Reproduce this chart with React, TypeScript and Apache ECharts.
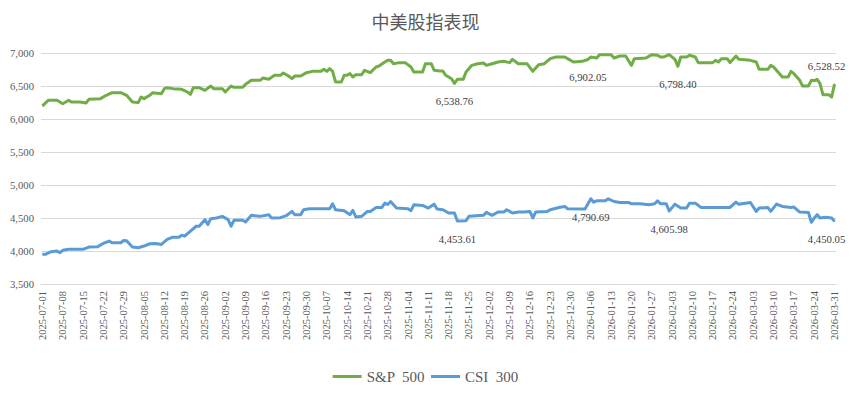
import React, { useEffect, useRef } from "react";
import * as echarts from "echarts";

// Category axis: every calendar day from 2025-07-01 to 2026-03-31
const firstDay = "2025-07-01";
const dayCount = 274;
const dateCategories: string[] = [];
{
  const t0 = Date.UTC(2025, 6, 1);
  for (let i = 0; i < dayCount; i++) {
    dateCategories.push(new Date(t0 + i * 86400000).toISOString().slice(0, 10));
  }
}

const yTicks = [3500, 4000, 4500, 5000, 5500, 6000, 6500, 7000];

const spxDates = [
  "2025-07-01","2025-07-03","2025-07-06","2025-07-08","2025-07-10","2025-07-11","2025-07-14","2025-07-16","2025-07-17","2025-07-21",
  "2025-07-23","2025-07-25","2025-07-28","2025-07-30","2025-08-01","2025-08-03","2025-08-04","2025-08-05","2025-08-07","2025-08-08",
  "2025-08-11","2025-08-12","2025-08-13","2025-08-15","2025-08-18","2025-08-20","2025-08-21","2025-08-22","2025-08-24","2025-08-26",
  "2025-08-28","2025-08-29","2025-09-01","2025-09-02","2025-09-04","2025-09-05","2025-09-08","2025-09-09","2025-09-11","2025-09-14",
  "2025-09-15","2025-09-17","2025-09-19","2025-09-21","2025-09-22","2025-09-24","2025-09-25","2025-09-26","2025-09-28","2025-09-30",
  "2025-10-02","2025-10-05","2025-10-06","2025-10-07","2025-10-08","2025-10-09","2025-10-10","2025-10-12","2025-10-13","2025-10-14",
  "2025-10-15","2025-10-16","2025-10-17","2025-10-19","2025-10-20","2025-10-22","2025-10-24","2025-10-25","2025-10-27","2025-10-28",
  "2025-10-29","2025-10-30","2025-11-01","2025-11-03","2025-11-05","2025-11-06","2025-11-09","2025-11-10","2025-11-12","2025-11-13",
  "2025-11-15","2025-11-16","2025-11-17","2025-11-19","2025-11-20","2025-11-21","2025-11-23","2025-11-24","2025-11-26","2025-11-28",
  "2025-11-30","2025-12-01","2025-12-03","2025-12-05","2025-12-07","2025-12-09","2025-12-10","2025-12-12","2025-12-15","2025-12-17",
  "2025-12-19","2025-12-21","2025-12-23","2025-12-25","2025-12-28","2025-12-29","2025-12-31","2026-01-03","2026-01-05","2026-01-06",
  "2026-01-08","2026-01-09","2026-01-13","2026-01-14","2026-01-16","2026-01-18","2026-01-20","2026-01-21","2026-01-25","2026-01-27",
  "2026-01-29","2026-01-30","2026-01-31","2026-02-02","2026-02-04","2026-02-05","2026-02-06","2026-02-08","2026-02-09","2026-02-11",
  "2026-02-12","2026-02-15","2026-02-17","2026-02-18","2026-02-19","2026-02-20","2026-02-22","2026-02-23","2026-02-25","2026-02-26",
  "2026-03-02","2026-03-04","2026-03-05","2026-03-08","2026-03-09","2026-03-10","2026-03-13","2026-03-15","2026-03-16","2026-03-17",
  "2026-03-19","2026-03-20","2026-03-22","2026-03-23","2026-03-24","2026-03-25","2026-03-26","2026-03-27","2026-03-29","2026-03-30",
  "2026-03-31",
];
const spxValues = [
  6198,6283,6283,6232,6283,6258,6258,6243,6298,6308,
  6359,6399,6399,6359,6258,6248,6333,6308,6359,6399,
  6384,6460,6475,6460,6450,6409,6374,6475,6475,6434,
  6500,6460,6460,6409,6500,6480,6480,6525,6586,6586,
  6621,6601,6662,6662,6697,6646,6611,6652,6652,6702,
  6722,6722,6753,6722,6763,6722,6561,6561,6662,6662,
  6687,6636,6672,6672,6737,6702,6788,6803,6864,6889,
  6889,6838,6854,6854,6788,6712,6712,6838,6838,6737,
  6727,6727,6662,6611,6538.76,6601,6601,6712,6813,6838,
  6849,6813,6838,6864,6874,6854,6904,6838,6838,6722,
  6823,6838,6914,6939,6939,6914,6864,6874,6902.05,6939,
  6924,6975,6975,6924,6955,6955,6813,6914,6924,6975,
  6965,6939,6939,6975,6904,6798.40,6939,6939,6965,6939,
  6854,6854,6854,6889,6864,6914,6914,6854,6955,6904,
  6889,6864,6753,6753,6813,6788,6636,6636,6722,6687,
  6586,6500,6500,6586,6580,6601,6535,6369,6369,6334,
  6528.52,
];

const csiDates = [
  "2025-07-01","2025-07-02","2025-07-04","2025-07-06","2025-07-07","2025-07-08","2025-07-10","2025-07-15","2025-07-17","2025-07-20",
  "2025-07-22","2025-07-24","2025-07-25","2025-07-28","2025-07-29","2025-07-30","2025-08-01","2025-08-03","2025-08-05","2025-08-07",
  "2025-08-09","2025-08-11","2025-08-13","2025-08-15","2025-08-17","2025-08-18","2025-08-19","2025-08-21","2025-08-23","2025-08-24",
  "2025-08-26","2025-08-27","2025-08-28","2025-08-30","2025-09-01","2025-09-03","2025-09-04","2025-09-05","2025-09-08","2025-09-09",
  "2025-09-11","2025-09-14","2025-09-17","2025-09-18","2025-09-21","2025-09-23","2025-09-25","2025-09-26","2025-09-28","2025-09-29",
  "2025-10-01","2025-10-08","2025-10-09","2025-10-10","2025-10-13","2025-10-15","2025-10-16","2025-10-17","2025-10-19","2025-10-21",
  "2025-10-22","2025-10-24","2025-10-26","2025-10-27","2025-10-28","2025-10-29","2025-10-31","2025-11-04","2025-11-05","2025-11-06",
  "2025-11-09","2025-11-11","2025-11-13","2025-11-14","2025-11-16","2025-11-18","2025-11-20","2025-11-21","2025-11-24","2025-11-25",
  "2025-11-30","2025-12-01","2025-12-03","2025-12-05","2025-12-07","2025-12-08","2025-12-10","2025-12-12","2025-12-14","2025-12-16",
  "2025-12-17","2025-12-18","2025-12-22","2025-12-23","2025-12-26","2025-12-28","2025-12-29","2026-01-04","2026-01-06","2026-01-07",
  "2026-01-08","2026-01-11","2026-01-12","2026-01-14","2026-01-16","2026-01-19","2026-01-20","2026-01-23","2026-01-26","2026-01-28",
  "2026-01-29","2026-01-30","2026-02-01","2026-02-02","2026-02-04","2026-02-06","2026-02-08","2026-02-09","2026-02-11","2026-02-13",
  "2026-02-23","2026-02-25","2026-02-26","2026-03-02","2026-03-04","2026-03-05","2026-03-08","2026-03-09","2026-03-11","2026-03-13",
  "2026-03-16","2026-03-17","2026-03-19","2026-03-22","2026-03-23","2026-03-24","2026-03-25","2026-03-26","2026-03-28","2026-03-30",
  "2026-03-31",
];
const csiValues = [
  3950,3950,3990,4000,3975,4010,4025,4025,4060,4065,
  4115,4150,4125,4125,4160,4155,4060,4050,4075,4110,
  4115,4100,4175,4210,4210,4240,4225,4300,4375,4375,
  4475,4400,4490,4500,4525,4475,4375,4465,4465,4440,
  4540,4525,4550,4500,4505,4535,4600,4550,4550,4625,
  4640,4640,4715,4625,4610,4550,4615,4515,4525,4600,
  4600,4660,4660,4725,4705,4750,4650,4640,4610,4700,
  4690,4650,4710,4635,4625,4575,4575,4453.61,4460,4525,
  4540,4585,4540,4590,4590,4625,4575,4590,4590,4600,
  4500,4590,4600,4625,4660,4675,4640,4635,4790.69,4740,
  4760,4760,4790,4750,4735,4735,4715,4715,4700,4715,
  4760,4715,4715,4605.98,4710,4650,4650,4725,4725,4660,
  4660,4740,4710,4735,4600,4650,4660,4600,4710,4675,
  4660,4665,4590,4585,4435,4500,4550,4500,4510,4500,
  4450.05,
];

const spxLabelDates = ["2025-11-20", "2026-01-05", "2026-02-05", "2026-03-31"];
const csiLabelDates = ["2025-11-21", "2026-01-06", "2026-02-02", "2026-03-31"];

const SERIF = "'Liberation Serif', 'Times New Roman', serif";
const fmt = (v: number) =>
  v.toLocaleString("en-US", { minimumFractionDigits: 2, maximumFractionDigits: 2 });

function buildData(
  dates: string[],
  values: number[],
  labelDates: string[],
  lastDate: string,
  lastAbove: boolean
) {
  return dates.map((d, i) => {
    const item: any = { value: [d, values[i]] };
    if (labelDates.includes(d)) {
      const isLast = d === lastDate;
      item.label = {
        show: true,
        position: isLast && lastAbove ? "top" : "bottom",
        distance: 12,
        offset: isLast ? [-8, 0] : [0, 0],
        formatter: (p: any) => fmt(p.value[1]),
        fontFamily: SERIF,
        fontSize: 10.7,
        color: "#404040",
      };
    }
    return item;
  });
}

export default function App() {
  const ref = useRef<HTMLDivElement>(null);
  useEffect(() => {
    document.body.style.margin = "0";
    if (!ref.current) return;
    const chart = echarts.init(ref.current, null, { renderer: "svg" });
    const lastDate = dateCategories[dateCategories.length - 1];
    const firstIdx = dateCategories.indexOf(firstDay);
    chart.setOption({
      animation: false,
      backgroundColor: "#ffffff",
      graphic: [
        {
          type: "text",
          left: "center",
          top: 12,
          style: {
            text: "中美股指表现",
            font: "18px 'Noto Sans CJK SC', sans-serif",
            fill: "#595959",
          },
        },
      ],
      grid: { left: 41, right: 15, top: 53, height: 231, containLabel: false },
      legend: {
        left: "center",
        top: 364,
        icon: "rect",
        itemWidth: 29,
        itemHeight: 3,
        itemGap: 6,
        textStyle: { fontFamily: SERIF, fontSize: 15, color: "#595959" },
        data: ["S&P  500", "CSI  300"],
      },
      xAxis: {
        type: "category",
        data: dateCategories,
        boundaryGap: true,
        axisLine: { show: true, lineStyle: { color: "#d9d9d9", width: 1 } },
        axisTick: { show: false },
        axisLabel: {
          interval: (idx: number) => (idx - firstIdx) % 7 === 0,
          rotate: 90,
          margin: 7,
          fontFamily: SERIF,
          fontSize: 10.5,
          color: "#595959",
        },
        splitLine: { show: false },
      },
      yAxis: {
        type: "value",
        min: yTicks[0],
        max: yTicks[yTicks.length - 1],
        interval: 500,
        axisLine: { show: false },
        axisTick: { show: false },
        axisLabel: {
          margin: 7,
          fontFamily: SERIF,
          fontSize: 10.7,
          color: "#595959",
          formatter: (v: number) => v.toLocaleString("en-US"),
        },
        splitLine: { lineStyle: { color: "#d9d9d9", width: 1 } },
      },
      series: [
        {
          name: "S&P  500",
          type: "line",
          data: buildData(spxDates, spxValues, spxLabelDates, lastDate, true),
          symbol: "circle",
          symbolSize: 1,
          showSymbol: true,
          showAllSymbol: true,
          itemStyle: { color: "#70AD47" },
          lineStyle: { color: "#70AD47", width: 3, join: "round" },
          emphasis: { disabled: true },
          z: 3,
        },
        {
          name: "CSI  300",
          type: "line",
          data: buildData(csiDates, csiValues, csiLabelDates, lastDate, false),
          symbol: "circle",
          symbolSize: 1,
          showSymbol: true,
          showAllSymbol: true,
          itemStyle: { color: "#5B9BD5" },
          lineStyle: { color: "#5B9BD5", width: 3, join: "round" },
          emphasis: { disabled: true },
          z: 3,
        },
      ],
    });
    return () => chart.dispose();
  }, []);
  return <div ref={ref} style={{ width: 851, height: 397 }} />;
}
